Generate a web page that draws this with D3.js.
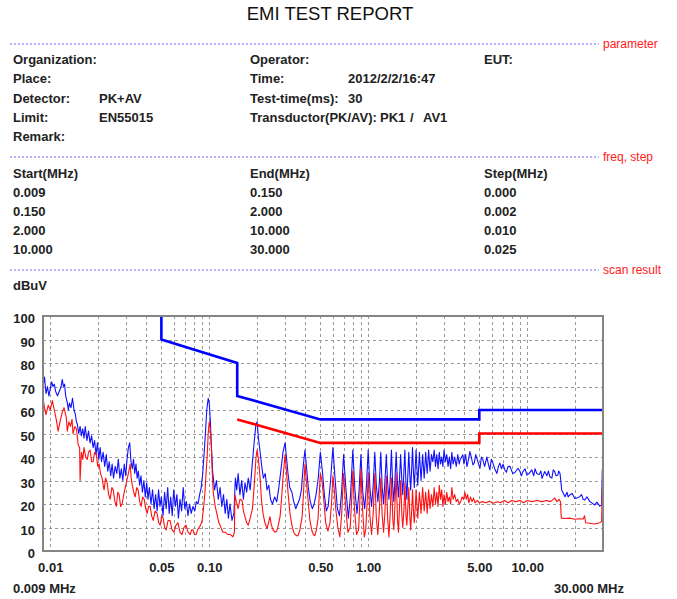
<!DOCTYPE html>
<html><head><meta charset="utf-8">
<script src="https://cdn.jsdelivr.net/npm/d3@7"></script>
<style>body{margin:0;background:#fff}svg{display:block}</style>
</head><body><svg id="c" width="677" height="599"></svg>
<script>
// ---------------- data ----------------
const reportTitle = "EMI TEST REPORT";
const sectionLabels = ["parameter", "freq, step", "scan result"];
const paramRows = [
  [["Organization:", 0], ["Operator:", 2], ["EUT:", 4]],
  [["Place:", 0], ["Time:", 2], ["2012/2/2/16:47", 3]],
  [["Detector:", 0], ["PK+AV", 1], ["Test-time(ms):", 2], ["30", 3]],
  [["Limit:", 0], ["EN55015", 1], ["Transductor(PK/AV):", 2], ["PK1", 5], ["/", 6], ["AV1", 7]],
  [["Remark:", 0]]
];
const freqHeader = ["Start(MHz)", "End(MHz)", "Step(MHz)"];
const freqRows = [
  ["0.009", "0.150", "0.000"],
  ["0.150", "2.000", "0.002"],
  ["2.000", "10.000", "0.010"],
  ["10.000", "30.000", "0.025"]
];
const yUnit = "dBuV";
const yTicks = [0, 10, 20, 30, 40, 50, 60, 70, 80, 90, 100];
const xTickValues = [0.01, 0.05, 0.1, 0.5, 1, 5, 10];
const xTickLabels = ["0.01", "0.05", "0.10", "0.50", "1.00", "5.00", "10.00"];
const xStartLabel = "0.009 MHz";
const xEndLabel = "30.000 MHz";
const freqDomain = [0.009, 30];

// limit lines (MHz, dBuV)
const qpLimit = [[0.05, 110], [0.05, 90], [0.15, 80], [0.15, 66], [0.5, 56], [5, 56], [5, 60], [30, 60]];
const avLimit = [[0.15, 56], [0.5, 46], [5, 46], [5, 50], [30, 50]];

// peak trace (blue)
const peakTrace = [
[0.0090,70],[0.0092,74],[0.0094,67],[0.0096,70],[0.0098,66],[0.0100,69],[0.0102,72],[0.0104,70],[0.0106,71],[0.0108,68],
[0.0111,66],[0.0114,68],[0.0117,70],[0.0119,73],[0.0121,70],[0.0123,71],[0.0125,66],[0.0128,63],[0.0130,60],[0.0132,63],
[0.0135,61],[0.0138,65],[0.0141,60],[0.0144,58],[0.0146,55],[0.0148,54],[0.0151,50],[0.0154,53],[0.0157,49],[0.0160,52],
[0.0163,48],[0.0166,53],[0.0170,47],[0.0174,51],[0.0178,46],[0.0182,49],[0.0186,44],[0.0190,47],[0.0194,41],[0.0198,46],
[0.0202,39],[0.0206,44],[0.0210,38],[0.0215,42],[0.0220,36],[0.0225,41],[0.0230,34],[0.0235,38],[0.0240,32],[0.0245,37],
[0.0250,31],[0.0256,36],[0.0262,33],[0.0268,39],[0.0274,31],[0.0280,35],[0.0286,30],[0.0292,37],[0.0298,32],[0.0304,39],
[0.0310,44],[0.0316,46],[0.0322,38],[0.0328,35],[0.0334,39],[0.0340,33],[0.0346,37],[0.0352,31],[0.0358,34],[0.0365,28],
[0.0372,32],[0.0380,25],[0.0388,30],[0.0396,23],[0.0404,29],[0.0412,22],[0.0420,27],[0.0430,20],[0.0440,26],[0.0450,18],
[0.0460,24],[0.0470,17],[0.0480,26],[0.0490,19],[0.0500,23],[0.0512,15],[0.0524,25],[0.0536,18],[0.0548,27],[0.0560,16],
[0.0572,23],[0.0585,15],[0.0598,26],[0.0612,19],[0.0626,24],[0.0640,14],[0.0655,22],[0.0670,17],[0.0686,27],[0.0702,18],
[0.0718,21],[0.0735,15],[0.0752,20],[0.0770,16],[0.0790,19],[0.0810,17],[0.0830,21],[0.0850,20],[0.0870,24],[0.0890,27],
[0.0910,33],[0.0930,42],[0.0950,52],[0.0965,60],[0.0985,65],[0.1000,63],[0.1015,56],[0.1030,46],[0.105,34],[0.108,26],
[0.111,30],[0.114,22],[0.117,27],[0.120,19],[0.123,24],[0.126,16],[0.129,22],[0.132,14],[0.135,20],[0.139,13],
[0.143,16],[0.146,31],[0.149,26],[0.152,33],[0.156,24],[0.160,30],[0.164,22],[0.168,29],[0.172,25],[0.176,31],
[0.181,26],[0.186,36],[0.191,45],[0.196,53],[0.200,55],[0.204,48],[0.209,42],[0.214,36],[0.219,31],[0.225,33],
[0.231,26],[0.237,28],[0.243,22],[0.250,20],[0.258,23],[0.266,21],[0.274,27],[0.282,34],[0.291,42],[0.300,46],
[0.306,40],[0.313,33],[0.321,27],[0.331,25],[0.340,21],[0.350,18],[0.360,20],[0.370,22],[0.380,26],[0.390,36],
[0.400,43],[0.410,35],[0.420,27],[0.432,21],[0.445,18],[0.457,20],[0.470,24],[0.485,31],[0.500,42],[0.515,34],
[0.530,24],[0.545,17],[0.560,19],[0.580,30],[0.600,44],[0.620,30],[0.640,18],[0.660,15],[0.680,25],[0.700,41],
[0.725,26],[0.750,14],[0.775,24],[0.800,43],[0.825,26],[0.850,16],[0.875,25],[0.900,41],[0.925,25],[0.950,18],
[0.975,28],[1.00,43],[1.025,27],[1.05,19],[1.075,28],[1.10,42],[1.125,28],[1.15,21],[1.175,29],[1.20,42],
[1.225,27],[1.25,20],[1.275,30],[1.30,41],[1.325,29],[1.35,22],[1.375,30],[1.40,43],[1.425,28],[1.45,21],
[1.475,31],[1.50,42],[1.525,30],[1.55,23],[1.575,31],[1.60,41],[1.625,31],[1.65,24],[1.675,33],[1.70,43],
[1.725,30],[1.75,22],[1.775,32],[1.80,42],[1.825,33],[1.85,26],[1.875,34],[1.90,44],[1.925,34],[1.95,27],
[1.975,35],[2.00,43],[2.05,28],[2.10,42],[2.15,30],[2.20,41],[2.25,31],[2.30,42],[2.35,33],[2.40,43],
[2.45,34],[2.50,41],[2.55,38],[2.60,43],[2.65,36],[2.70,41],[2.75,35],[2.80,42],[2.85,37],[2.90,40],
[2.95,36],[3.00,43],[3.06,38],[3.12,41],[3.18,36],[3.24,40],[3.30,35],[3.36,42],[3.42,37],[3.50,40],
[3.58,36],[3.66,41],[3.74,37],[3.78,38.7],[3.94,40.9],[4.0,37],[4.1,41],[4.18,35.9],[4.25,38],[4.36,42.3],
[4.45,40],[4.56,36.6],[4.65,37.5],[4.75,41],[4.83,39.4],[4.95,37],[5.05,35.2],[5.15,40],[5.27,38.7],[5.4,36],
[5.58,40],[5.7,37],[5.83,34.5],[5.95,39],[6.09,37.5],[6.25,35],[6.45,33],[6.6,36],[6.73,37.4],[6.9,35],
[7.05,37],[7.24,34.5],[7.4,33.5],[7.57,35.9],[7.8,36],[8.0,34],[8.13,33],[8.4,33.5],[8.75,35.2],[9.0,34],
[9.2,32],[9.40,33.8],[9.7,35],[9.96,32.3],[10.3,33],[10.7,34.5],[11.0,32],[11.2,35],[11.5,33],[11.9,32.5],
[12.2,34],[12.4,30.9],[12.9,33.8],[13.3,32],[13.6,34],[13.9,31.6],[14.3,31],[14.6,34.5],[14.9,33.8],[15.2,32],
[15.6,32.3],[15.8,34],[16.1,33],[16.5,26],[17.3,23.1],[17.8,25],[18.1,23],[18.5,23.8],[19.2,24.5],[19.9,22.4],
[20.5,22.5],[21.4,23.1],[22.0,24],[22.5,22],[23.0,21.7],[23.8,23],[24.8,21],[25.5,20.5],[26.6,19.6],[27.5,20.8],
[28.6,19.1],[29.4,19.5],[29.7,35]
];

// average trace (red)
const avgTrace = [
[0.0090,65],[0.0092,61],[0.0094,58],[0.0097,62],[0.0100,60],[0.0103,64],[0.0106,60],[0.0109,56],[0.0112,51],[0.0116,56],
[0.0119,59],[0.0122,61],[0.0126,57],[0.0128,51],[0.0131,55],[0.0134,53],[0.0137,56],[0.0139,50],[0.0143,53],[0.0146,52],
[0.0150,45],[0.0153,44],[0.0154,30],[0.0157,42],[0.0160,39],[0.0163,44],[0.0167,40],[0.0171,39],[0.0174,42],[0.0178,43],
[0.0182,38],[0.0186,38],[0.0190,42],[0.0195,41],[0.0199,36],[0.0203,37],[0.0207,33],[0.0212,31],[0.0215,28],[0.0218,26],
[0.0223,31],[0.0228,29],[0.0233,24],[0.0238,22],[0.0244,27],[0.0249,26],[0.0255,21],[0.0260,19],[0.0266,25],[0.0271,24],
[0.0277,19],[0.0283,20],[0.0290,24],[0.0296,27],[0.0303,30],[0.0310,33],[0.0318,37],[0.0323,31],[0.0328,28],[0.0335,25],
[0.0342,23],[0.0350,27],[0.0357,26],[0.0365,21],[0.0373,19],[0.0381,23],[0.0390,22],[0.0398,18],[0.0407,16],[0.0416,19],
[0.0425,19],[0.0434,15],[0.0444,13],[0.0457,17],[0.0470,16],[0.0481,12],[0.0492,11],[0.0502,15],[0.0513,14],[0.0524,10],
[0.0536,9],[0.0551,13],[0.0567,13],[0.0583,9],[0.0600,8],[0.0618,11],[0.0636,12],[0.0655,8],[0.0674,7],[0.0693,10],
[0.0713,11],[0.0736,8],[0.0759,7],[0.0775,9],[0.0790,9],[0.0808,7],[0.0827,7],[0.0845,9],[0.0863,10],[0.0882,11],
[0.0902,13],[0.0920,18],[0.0940,25],[0.0955,33],[0.0970,40],[0.0985,50],[0.1000,55],[0.1015,52],[0.1030,45],[0.1045,33],
[0.106,25],[0.109,19],[0.112,15.5],[0.115,12],[0.117,11],[0.120,9],[0.122,8],[0.126,8],[0.131,7],[0.136,7],
[0.141,6],[0.144,8],[0.145,24],[0.148,21],[0.152,18],[0.156,22],[0.161,21.5],[0.164,17],[0.168,14.5],[0.172,12],
[0.176,11],[0.181,14],[0.187,18],[0.191,26],[0.194,33],[0.197,40],[0.200,43],[0.204,39],[0.209,31],[0.213,22],
[0.218,16],[0.224,12],[0.231,9.5],[0.236,12],[0.241,14.6],[0.246,11],[0.252,9],[0.259,8],[0.266,8.5],[0.272,11],
[0.279,14.6],[0.285,22],[0.291,31],[0.300,41],[0.306,34],[0.313,25],[0.322,16],[0.331,11],[0.340,8],[0.347,7],
[0.355,6.5],[0.362,6.5],[0.372,9],[0.384,14.6],[0.392,25],[0.400,37],[0.408,30],[0.418,22],[0.430,13],[0.443,8.5],
[0.452,7],[0.462,6.5],[0.472,9],[0.484,14],[0.492,24],[0.500,33],[0.512,30],[0.525,22],[0.540,12],[0.558,8.5],
[0.575,12],[0.590,22],[0.600,32],[0.612,26],[0.625,18],[0.644,10],[0.663,6],[0.680,15],[0.700,33],[0.720,20],
[0.745,8],[0.770,10],[0.785,20],[0.800,34],[0.820,18],[0.845,7],[0.870,9],[0.885,20],[0.900,35],[0.920,19],
[0.945,6],[0.965,9],[0.985,21],[1.000,33],[1.025,15],[1.05,7],[1.075,16],[1.10,33],[1.125,14],[1.15,7],
[1.175,17],[1.20,31],[1.225,15],[1.25,8],[1.275,17],[1.30,32],[1.325,14],[1.35,6],[1.375,16],[1.40,31],
[1.43,13],[1.45,9],[1.47,18],[1.50,33],[1.53,13],[1.55,8],[1.57,17],[1.60,30],[1.63,15],[1.65,10],
[1.68,18],[1.70,29],[1.73,15],[1.75,11],[1.78,20],[1.80,27],[1.83,14],[1.85,9],[1.88,18],[1.90,26],
[1.93,16],[1.95,12],[1.98,19],[2.00,26],[2.05,14],[2.10,25],[2.15,16],[2.20,27],[2.25,17],[2.30,25],
[2.35,16],[2.40,26],[2.45,18],[2.50,24],[2.55,19],[2.60,27],[2.65,20],[2.70,25],[2.75,19],[2.80,28],
[2.85,22],[2.90,26],[2.95,19],[3.00,24],[3.06,20],[3.12,25],[3.18,21],[3.24,23],[3.30,20],[3.36,27],
[3.42,22],[3.50,24],[3.58,21],[3.66,22],[3.74,20],[3.82,21],[3.90,23],[3.98,22],[4.06,25],[4.14,22],
[4.22,24],[4.30,20.5],[4.40,23],[4.50,21],[4.60,22.5],[4.70,20.5],[4.85,21.5],[5.0,20.5],[5.2,21],[5.5,20.5],
[5.8,21.2],[6.1,20.3],[6.5,21],[6.8,20.5],[7.2,21.5],[7.6,20.5],[8.0,21.5],[8.5,21],[9.0,21.5],[9.5,20.5],
[10,21.5],[10.7,21],[11.5,21.5],[12.4,21],[13.2,21.5],[14.0,21],[14.9,22.5],[15.4,21],[15.9,22],[16.2,21],
[16.4,14],[17.3,13.8],[18.5,14],[19.9,13.5],[21.4,13.7],[22.5,13.6],[23.0,15],[23.3,12],[24.8,11.8],[26.6,11.5],
[28.6,12],[29.4,12.5],[29.7,27]
];

// ---------------- drawing ----------------
const svg = d3.select("#c");
const FONT = "'Liberation Sans', Arial, sans-serif";
const plot = {left: 43, right: 603, top: 316, bottom: 551};

// title
svg.append("text").attr("x", 330).attr("y", 20).attr("text-anchor", "middle")
  .attr("font-family", FONT).attr("font-size", 18.5).attr("fill", "#111").text(reportTitle);

// section separators
const sepY = [44, 157, 270];
sepY.forEach((yy, i) => {
  svg.append("line").attr("x1", 10).attr("x2", 599).attr("y1", yy).attr("y2", yy)
    .attr("stroke", "#6a6aff").attr("stroke-width", 1).attr("stroke-dasharray", "2,2");
  svg.append("text").attr("x", 603).attr("y", yy + 4).attr("font-family", FONT)
    .attr("font-size", 12).attr("fill", "#ff1a1a").text(sectionLabels[i]);
});

// parameter block
const colX = [13, 99, 250, 348, 484, 380, 410, 423];
const paramY = [64, 83, 102.5, 121.5, 141];
paramRows.forEach((row, r) => {
  row.forEach(([txt, c]) => {
    svg.append("text").attr("x", colX[c]).attr("y", paramY[r])
      .attr("font-family", FONT).attr("font-weight", "bold").attr("font-size", 13)
      .attr("fill", "#222").text(txt);
  });
});

// freq / step table
const tabX = [13, 250, 484];
const tabY = [177.5, 196.5, 215.5, 235, 254];
[freqHeader].concat(freqRows).forEach((row, r) => {
  row.forEach((txt, c) => {
    svg.append("text").attr("x", tabX[c]).attr("y", tabY[r])
      .attr("font-family", FONT).attr("font-weight", "bold").attr("font-size", 13)
      .attr("fill", "#222").text(txt);
  });
});

svg.append("text").attr("x", 13).attr("y", 290).attr("font-family", FONT)
  .attr("font-weight", "bold").attr("font-size", 13).attr("fill", "#222").text(yUnit);

// scales
const x = d3.scaleLog().domain(freqDomain).range([plot.left, plot.right]);
const y = d3.scaleLinear().domain([0, 100]).range([plot.bottom, plot.top]);

// grid
const gridG = svg.append("g");
const vGrid = x.ticks().filter(f => f > freqDomain[0] * 1.0001 && f < freqDomain[1] * 0.9999);
gridG.selectAll("line.v").data(vGrid).join("line")
  .attr("x1", d => Math.round(x(d)) + 0.5).attr("x2", d => Math.round(x(d)) + 0.5)
  .attr("y1", plot.top).attr("y2", plot.bottom)
  .attr("stroke", "#9a9a9a").attr("stroke-width", 1).attr("stroke-dasharray", "3,3");
gridG.selectAll("line.h").data(yTicks.filter(v => v > 0 && v < 100)).join("line")
  .attr("x1", plot.left).attr("x2", plot.right)
  .attr("y1", d => Math.round(y(d)) + 0.5).attr("y2", d => Math.round(y(d)) + 0.5)
  .attr("stroke", "#9a9a9a").attr("stroke-width", 1).attr("stroke-dasharray", "3,3");

// clip
svg.append("clipPath").attr("id", "clip").append("rect")
  .attr("x", plot.left).attr("y", plot.top)
  .attr("width", plot.right - plot.left).attr("height", plot.bottom - plot.top);

const line = d3.line().x(d => x(d[0])).y(d => y(d[1]));
const dataG = svg.append("g").attr("clip-path", "url(#clip)");

const byFreq = (a, b) => a[0] - b[0];
dataG.append("path").datum(peakTrace.slice().sort(byFreq)).attr("d", line)
  .attr("fill", "none").attr("stroke", "#1010ff").attr("stroke-width", 1.1).attr("stroke-linejoin", "round");
dataG.append("path").datum(avgTrace.slice().sort(byFreq)).attr("d", line)
  .attr("fill", "none").attr("stroke", "#ff1010").attr("stroke-width", 1.1).attr("stroke-linejoin", "round");

dataG.append("path").datum(qpLimit).attr("d", line)
  .attr("fill", "none").attr("stroke", "#0000ff").attr("stroke-width", 2.6);
dataG.append("path").datum(avLimit).attr("d", line)
  .attr("fill", "none").attr("stroke", "#ff0000").attr("stroke-width", 2.6);

// frame
svg.append("rect").attr("x", plot.left).attr("y", plot.top)
  .attr("width", plot.right - plot.left).attr("height", plot.bottom - plot.top)
  .attr("fill", "none").attr("stroke", "#858585").attr("stroke-width", 2);

// y axis labels
const yAxis = d3.axisLeft(y).tickValues(yTicks).tickSize(0).tickPadding(8);
const yg = svg.append("g").attr("transform", `translate(${plot.left},0)`).call(yAxis);
yg.select(".domain").remove();
yg.selectAll("text").attr("font-family", FONT).attr("font-weight", "bold")
  .attr("font-size", 13).attr("fill", "#222").attr("dy", "0.5em");

// x axis labels
const xAxis = d3.axisBottom(x).tickValues(xTickValues)
  .tickFormat((d, i) => xTickLabels[i]).tickSize(0).tickPadding(12);
const xg = svg.append("g").attr("transform", `translate(0,${plot.bottom})`).call(xAxis);
xg.select(".domain").remove();
xg.selectAll("text").attr("font-family", FONT).attr("font-weight", "bold")
  .attr("font-size", 13).attr("fill", "#222");

svg.append("text").attr("x", 13).attr("y", 593).attr("font-family", FONT)
  .attr("font-weight", "bold").attr("font-size", 13).attr("fill", "#222").text(xStartLabel);
svg.append("text").attr("x", 624).attr("y", 593).attr("text-anchor", "end").attr("font-family", FONT)
  .attr("font-weight", "bold").attr("font-size", 13).attr("fill", "#222").text(xEndLabel);
</script></body></html>
